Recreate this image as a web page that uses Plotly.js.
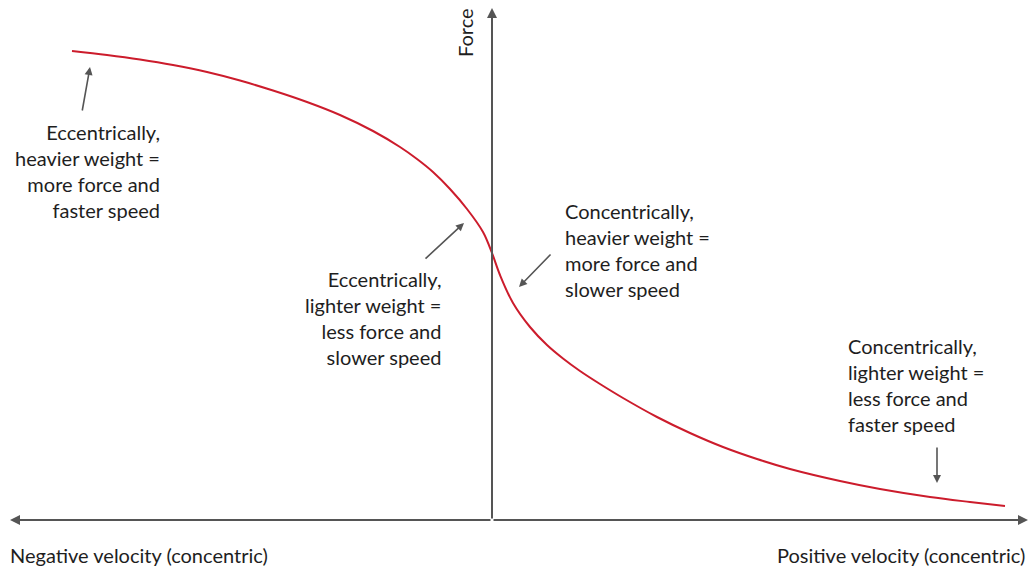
<!DOCTYPE html>
<html><head><meta charset="utf-8">
<script src="https://cdn.plot.ly/plotly-3.0.1.min.js"></script>
<style>html,body{margin:0;padding:0;background:#fff}#chart{width:1031px;height:571px}</style>
</head><body><div id="chart"></div>
<script>
// Velocity (arbitrary units, 0 = isometric) and force (arbitrary units)
const velocity = [-4.20,-3.85,-3.52,-3.19,-2.85,-2.52,-2.19,-1.85,-1.52,-1.19,-0.92,-0.75,-0.59,-0.42,-0.25,-0.09,0.00,0.08,0.21,0.38,0.55,0.71,0.88,1.08,1.31,1.65,1.98,2.31,2.65,2.98,3.48,3.88,4.38,4.78,5.13];
const force    = [ 4.69, 4.65, 4.605,4.55, 4.48, 4.395,4.295,4.18, 4.05, 3.89, 3.73, 3.61, 3.48, 3.31, 3.11, 2.88, 2.67, 2.45, 2.17, 1.93, 1.75, 1.615,1.49, 1.36, 1.22, 1.03, 0.87, 0.73, 0.61, 0.51, 0.39, 0.31, 0.23, 0.18, 0.14];
const axisLabels = ["Negative velocity (concentric)", "Positive velocity (concentric)", "Force"];
const notes = [
  "Eccentrically,<br>heavier weight =<br>more force and<br>faster speed",
  "Eccentrically,<br>lighter weight =<br>less force and<br>slower speed",
  "Concentrically,<br>heavier weight =<br>more force and<br>slower speed",
  "Concentrically,<br>lighter weight =<br>less force and<br>faster speed"
];

const FONT = "Lato, 'Open Sans', sans-serif";
const FS = 20;
const TXT = "#1e1e1e";
const AX = "#555";

const trace = {
  x: velocity, y: force, type: "scatter", mode: "lines",
  line: {color: "#cc1c2c", width: 2, shape: "spline", smoothing: 1},
  hoverinfo: "skip"
};

function arrow(x, y, ax, ay, w) {
  return {x: x, y: y, ax: ax, ay: ay, xref: "x", yref: "y", axref: "x", ayref: "y",
    text: "", showarrow: true, arrowhead: 2, arrowsize: 1, arrowwidth: w || 1.6,
    arrowcolor: AX, standoff: 0, startstandoff: 0};
}
function note(x, y, text, anchor) {
  return {x: x, y: y, xref: "x", yref: "y", text: text, showarrow: false,
    xanchor: anchor, yanchor: "top", align: anchor,
    font: {family: FONT, size: FS, color: TXT}};
}

const annotations = [
  // axes
  arrow(-4.82, 0, 0, 0, 2), arrow(5.36, 0, 0, 0, 2), arrow(0, 5.12, 0, 0, 2),
  // pointer arrows
  arrow(-4.02, 4.53, -4.10, 4.08),
  arrow(-0.28, 2.97, -0.68, 2.60),
  arrow(0.27, 2.33, 0.60, 2.67),
  arrow(4.45, 0.37, 4.45, 0.74),
  // notes
  note(-3.30, 4.02, notes[0], "right"),
  note(-0.49, 2.55, notes[1], "right"),
  note(0.71, 3.23, notes[2], "left"),
  note(3.54, 1.88, notes[3], "left"),
  // axis labels
  {x: -4.84, y: -0.35, xref: "x", yref: "y", text: axisLabels[0], showarrow: false,
   xanchor: "left", yanchor: "middle", font: {family: FONT, size: FS, color: TXT}},
  {x: 5.35, y: -0.35, xref: "x", yref: "y", text: axisLabels[1], showarrow: false,
   xanchor: "right", yanchor: "middle", font: {family: FONT, size: FS, color: TXT}},
  {x: -0.27, y: 4.87, xref: "x", yref: "y", text: axisLabels[2], showarrow: false,
   textangle: -90, xanchor: "center", yanchor: "middle", font: {family: FONT, size: FS, color: TXT}}
];

const layout = {
  width: 1031, height: 571, margin: {l: 0, r: 0, t: 0, b: 0},
  paper_bgcolor: "#fff", plot_bgcolor: "#fff", showlegend: false,
  xaxis: {range: [-4.92, 5.39], visible: false, fixedrange: true},
  yaxis: {range: [-0.51, 5.20], visible: false, fixedrange: true},
  annotations: annotations
};

Plotly.newPlot("chart", [trace], layout, {displayModeBar: false, staticPlot: true});
</script></body></html>
